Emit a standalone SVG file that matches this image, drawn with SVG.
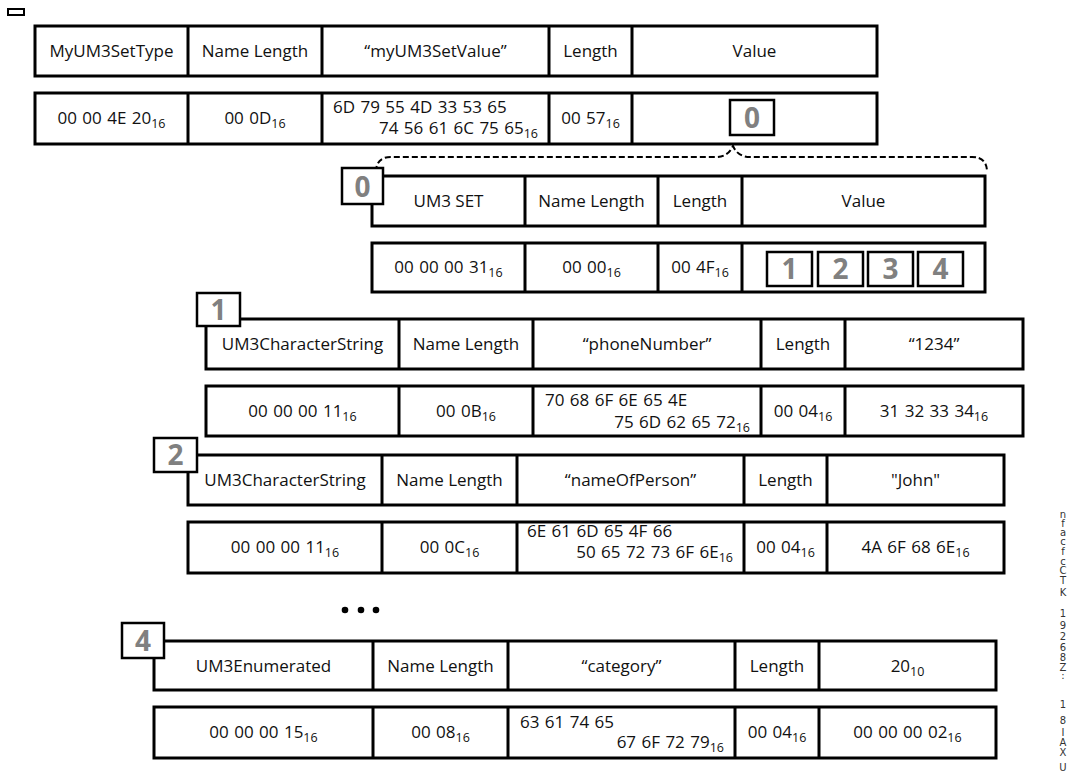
<svg xmlns="http://www.w3.org/2000/svg" width="1089" height="775" viewBox="0 0 1089 775">
<style>
.row{fill:#fff;stroke:#000;stroke-width:3}
.div{stroke:#000;stroke-width:3}
.t{font-family:"Open Sans","Noto Sans",sans-serif;font-size:17px;fill:#111;text-anchor:middle}
.d{font-family:"Open Sans","Noto Sans",sans-serif;font-size:17px;fill:#111;text-anchor:middle;word-spacing:1px}
.l{text-anchor:start}
.r{text-anchor:end}
.sub{font-size:12.5px}
.lbox{fill:#fff;stroke:#000;stroke-width:2.5}
.lnum{font-family:"Open Sans","Noto Sans",sans-serif;font-size:28px;font-weight:bold;fill:#808080;text-anchor:middle}
.brace{fill:none;stroke:#000;stroke-width:2;stroke-dasharray:6 3}
.side{font-family:"DejaVu Sans",sans-serif;font-size:10px;fill:#333;text-anchor:middle}
</style>

<rect x="8" y="9" width="16" height="6" fill="none" stroke="#000" stroke-width="2"/>

<g id="rowA">
<rect class="row" x="35" y="26" width="842" height="50"/>
<path class="div" d="M188,26V76M322,26V76M549,26V76M632,26V76"/>
<text class="t" x="111.5" y="57">MyUM3SetType</text>
<text class="t" x="255" y="57">Name Length</text>
<text class="t" x="435.5" y="57">“myUM3SetValue”</text>
<text class="t" x="590.5" y="57">Length</text>
<text class="t" x="754.5" y="57">Value</text>
</g>

<g id="rowB">
<rect class="row" x="35" y="93" width="842" height="51"/>
<path class="div" d="M188,93V144M322,93V144M549,93V144M632,93V144"/>
<text class="d" x="111.5" y="124">00 00 4E 20<tspan class="sub" dy="4">16</tspan></text>
<text class="d" x="255" y="124">00 0D<tspan class="sub" dy="4">16</tspan></text>
<text class="d l" x="333" y="113">6D 79 55 4D 33 53 65</text>
<text class="d r" x="538" y="134">74 56 61 6C 75 65<tspan class="sub" dy="4">16</tspan></text>
<text class="d" x="590.5" y="124">00 57<tspan class="sub" dy="4">16</tspan></text>
</g>

<g id="label0a">
<rect class="lbox" x="730" y="100" width="44" height="35"/>
<text class="lnum" x="752" y="128">0</text>
</g>

<g id="connectors">
<path class="brace" d="M376,172 Q376,157 391,157 L716,157 Q728,157 733,146 Q738,157 750,157 L972,157 Q987,157 987,172"/>
</g>

<g id="rowC">
<rect class="row" x="372" y="176" width="613" height="50"/>
<path class="div" d="M525,176V226M658,176V226M742,176V226"/>
<text class="t" x="448.5" y="207">UM3 SET</text>
<text class="t" x="591.5" y="207">Name Length</text>
<text class="t" x="700" y="207">Length</text>
<text class="t" x="863.5" y="207">Value</text>
</g>

<g id="label0b">
<rect class="lbox" x="342" y="168" width="41" height="36"/>
<text class="lnum" x="362.5" y="197">0</text>
</g>

<g id="rowD">
<rect class="row" x="372" y="243" width="613" height="49"/>
<path class="div" d="M525,243V292M658,243V292M742,243V292"/>
<text class="d" x="448.5" y="273">00 00 00 31<tspan class="sub" dy="4">16</tspan></text>
<text class="d" x="591.5" y="273">00 00<tspan class="sub" dy="4">16</tspan></text>
<text class="d" x="700" y="273">00 4F<tspan class="sub" dy="4">16</tspan></text>
</g>

<g id="ref1"><rect class="lbox" x="767" y="252" width="45" height="34"/><text class="lnum" x="789.5" y="279">1</text></g>
<g id="ref2"><rect class="lbox" x="818" y="252" width="45" height="34"/><text class="lnum" x="840.5" y="279">2</text></g>
<g id="ref3"><rect class="lbox" x="868" y="252" width="45" height="34"/><text class="lnum" x="890.5" y="279">3</text></g>
<g id="ref4"><rect class="lbox" x="918" y="252" width="45" height="34"/><text class="lnum" x="940.5" y="279">4</text></g>

<g id="rowE">
<rect class="row" x="206" y="319" width="817" height="50"/>
<path class="div" d="M399,319V369M533,319V369M761,319V369M845,319V369"/>
<text class="t" x="302.5" y="350">UM3CharacterString</text>
<text class="t" x="466" y="350">Name Length</text>
<text class="t" x="647" y="350">“phoneNumber”</text>
<text class="t" x="803" y="350">Length</text>
<text class="t" x="934" y="350">“1234”</text>
</g>

<g id="label1">
<rect class="lbox" x="197" y="293" width="43" height="33"/>
<text class="lnum" x="218.5" y="320">1</text>
</g>

<g id="rowF">
<rect class="row" x="206" y="386" width="817" height="50"/>
<path class="div" d="M399,386V436M533,386V436M761,386V436M845,386V436"/>
<text class="d" x="302.5" y="417">00 00 00 11<tspan class="sub" dy="4">16</tspan></text>
<text class="d" x="466" y="417">00 0B<tspan class="sub" dy="4">16</tspan></text>
<text class="d l" x="545" y="406">70 68 6F 6E 65 4E</text>
<text class="d r" x="750" y="428">75 6D 62 65 72<tspan class="sub" dy="4">16</tspan></text>
<text class="d" x="803" y="417">00 04<tspan class="sub" dy="4">16</tspan></text>
<text class="d" x="934" y="417">31 32 33 34<tspan class="sub" dy="4">16</tspan></text>
</g>

<g id="rowG">
<rect class="row" x="188" y="455" width="816" height="50"/>
<path class="div" d="M382,455V505M517,455V505M744,455V505M827,455V505"/>
<text class="t" x="285" y="486">UM3CharacterString</text>
<text class="t" x="449.5" y="486">Name Length</text>
<text class="t" x="630.5" y="486">“nameOfPerson”</text>
<text class="t" x="785.5" y="486">Length</text>
<text class="t" x="915.5" y="486">"John"</text>
</g>

<g id="label2">
<rect class="lbox" x="154" y="438" width="43" height="34"/>
<text class="lnum" x="175.5" y="465">2</text>
</g>

<g id="rowH">
<rect class="row" x="188" y="522" width="816" height="51"/>
<path class="div" d="M382,522V573M517,522V573M744,522V573M827,522V573"/>
<text class="d" x="285" y="553">00 00 00 11<tspan class="sub" dy="4">16</tspan></text>
<text class="d" x="449.5" y="553">00 0C<tspan class="sub" dy="4">16</tspan></text>
<text class="d l" x="527" y="537">6E 61 6D 65 4F 66</text>
<text class="d r" x="733" y="558">50 65 72 73 6F 6E<tspan class="sub" dy="4">16</tspan></text>
<text class="d" x="785.5" y="553">00 04<tspan class="sub" dy="4">16</tspan></text>
<text class="d" x="915.5" y="553">4A 6F 68 6E<tspan class="sub" dy="4">16</tspan></text>
</g>

<g id="ellipsis">
<circle cx="345" cy="610" r="3.3"/>
<circle cx="361" cy="610" r="3.3"/>
<circle cx="376" cy="610" r="3.3"/>
</g>

<g id="rowI">
<rect class="row" x="154" y="641" width="842" height="49"/>
<path class="div" d="M373,641V690M508,641V690M735,641V690M819,641V690"/>
<text class="t" x="263.5" y="672">UM3Enumerated</text>
<text class="t" x="440.5" y="672">Name Length</text>
<text class="t" x="621.5" y="672">“category”</text>
<text class="t" x="777" y="672">Length</text>
<text class="t" x="907.5" y="672">20<tspan class="sub" dy="4">10</tspan></text>
</g>

<g id="label4">
<rect class="lbox" x="122" y="623" width="42" height="35"/>
<text class="lnum" x="143" y="651">4</text>
</g>

<g id="rowJ">
<rect class="row" x="154" y="707" width="842" height="51"/>
<path class="div" d="M373,707V758M508,707V758M735,707V758M819,707V758"/>
<text class="d" x="263.5" y="738">00 00 00 15<tspan class="sub" dy="4">16</tspan></text>
<text class="d" x="440.5" y="738">00 08<tspan class="sub" dy="4">16</tspan></text>
<text class="d l" x="520" y="728">63 61 74 65</text>
<text class="d r" x="724" y="748">67 6F 72 79<tspan class="sub" dy="4">16</tspan></text>
<text class="d" x="777" y="738">00 04<tspan class="sub" dy="4">16</tspan></text>
<text class="d" x="907.5" y="738">00 00 00 02<tspan class="sub" dy="4">16</tspan></text>
</g>

<g id="sideText">
<text class="side" x="1063 1063 1063 1063 1063 1063 1063 1063 1063 1063 1063 1063 1063 1063 1063 1063 1063 1063 1063 1063 1063 1063" y="518 527 536 545 555 565 574 584 596 617 629 640 651 661 671 679 708 724 736 746 756 771">nfacfcCTK19268Z:18IAXU</text>
</g>
</svg>
